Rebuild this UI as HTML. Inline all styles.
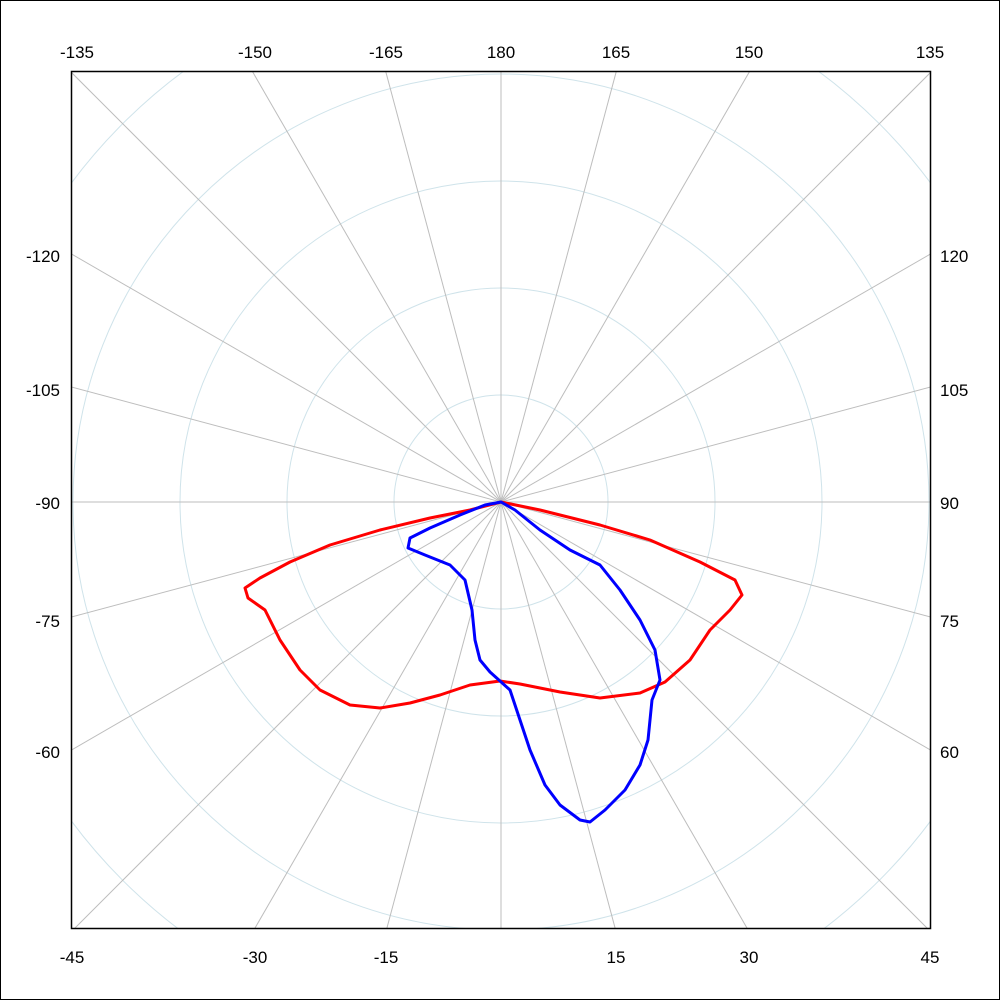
<!DOCTYPE html>
<html><head><meta charset="utf-8"><style>html,body{margin:0;padding:0;background:#fff;width:1000px;height:1000px;overflow:hidden}svg{display:block}text{font-family:"Liberation Sans",sans-serif;font-size:17px;fill:#000}</style></head>
<body>
<svg width="1000" height="1000" viewBox="0 0 1000 1000" xmlns="http://www.w3.org/2000/svg">
<rect x="0.5" y="0.5" width="999" height="999" fill="#fff" stroke="#000"/>
<defs><clipPath id="c"><rect x="71" y="71" width="860" height="858"/></clipPath></defs>
<g clip-path="url(#c)" fill="none">
<g stroke="#cfe3ea" stroke-width="1">
<circle cx="501" cy="502" r="107"/><circle cx="501" cy="502" r="214"/><circle cx="501" cy="502" r="321"/><circle cx="501" cy="502" r="428"/><circle cx="501" cy="502" r="535"/>
</g>
<g stroke="#bdbdbd" stroke-width="1">
<line x1="501" y1="-998" x2="501" y2="2002"/>
<line x1="113" y1="-947" x2="889" y2="1951"/>
<line x1="-249" y1="-797" x2="1251" y2="1801"/>
<line x1="-560" y1="-559" x2="1562" y2="1563"/>
<line x1="-798" y1="-248" x2="1800" y2="1252"/>
<line x1="-948" y1="114" x2="1950" y2="890"/>
<line x1="-999" y1="502" x2="2001" y2="502"/>
<line x1="-948" y1="890" x2="1950" y2="114"/>
<line x1="-798" y1="1252" x2="1800" y2="-248"/>
<line x1="-560" y1="1563" x2="1562" y2="-559"/>
<line x1="-249" y1="1801" x2="1251" y2="-797"/>
<line x1="113" y1="1951" x2="889" y2="-947"/>
</g>
</g>
<rect x="71.5" y="71.5" width="859" height="857" fill="none" stroke="#000" stroke-width="1.5"/>
<g text-anchor="middle">
<text x="77" y="58">-135</text><text x="255" y="58">-150</text><text x="386" y="58">-165</text><text x="501" y="58">180</text><text x="616" y="58">165</text><text x="749" y="58">150</text><text x="930" y="58">135</text>
<text x="72" y="963">-45</text><text x="255" y="963">-30</text><text x="386" y="963">-15</text><text x="616" y="963">15</text><text x="749" y="963">30</text><text x="930" y="963">45</text>
</g>
<g text-anchor="end">
<text x="60" y="262">-120</text><text x="60" y="396">-105</text><text x="60" y="509">-90</text><text x="60" y="627">-75</text><text x="60" y="758">-60</text>
</g>
<g text-anchor="start">
<text x="940" y="262">120</text><text x="940" y="396">105</text><text x="940" y="509">90</text><text x="940" y="627">75</text><text x="940" y="758">60</text>
</g>
<path fill="none" stroke="#f00" stroke-width="3" stroke-linejoin="round" d="M501,502 L540,510 L600,525 L650,540 L700,562 L735,580 L742,595 L730,610 L710,630 L690,660 L665,682 L640,693 L600,698 L560,692 L520,684 L500,681 L470,685 L440,695 L410,703 L380,708 L350,705 L320,690 L300,670 L280,640 L265,610 L248,598 L245,588 L260,578 L290,562 L330,545 L380,530 L430,518 L470,510 Z"/>
<path fill="none" stroke="#00f" stroke-width="3" stroke-linejoin="round" d="M501,502 L515,510 L540,530 L570,550 L600,565 L620,590 L640,620 L655,650 L660,680 L652,700 L648,740 L640,765 L625,790 L605,810 L590,822 L580,820 L560,805 L545,785 L530,750 L520,720 L510,690 L490,672 L480,660 L475,640 L472,610 L465,580 L450,565 L425,555 L408,548 L410,538 L430,528 L460,515 L485,505 Z"/>
</svg>
</body></html>
